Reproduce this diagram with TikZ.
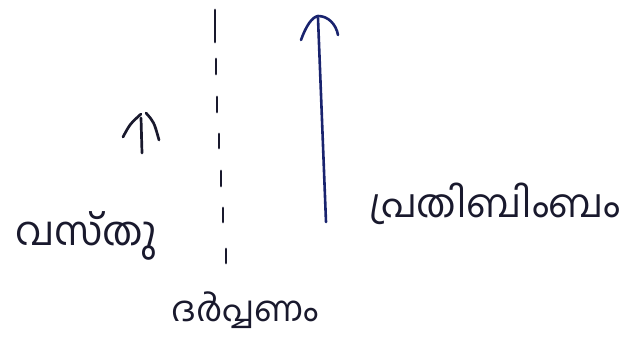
\documentclass[tikz,border=0pt]{standalone}
\usepackage{fontspec}
\newfontfamily\mlfont[Script=Malayalam]{Hind Kochi}
\definecolor{ink}{RGB}{25,25,45}
\definecolor{blueink}{RGB}{25,35,110}
\begin{document}
\begin{tikzpicture}[x=1pt,y=-1pt,
  pen/.style={line width=2.7pt,line cap=round,line join=round,draw=ink},
  bluepen/.style={line width=2.6pt,line cap=round,line join=round,draw=blueink},
  lbl/.style={text=ink,inner sep=0pt}]
\useasboundingbox (0,0) rectangle (622,342);
% object arrow
\draw[pen] (142,153) -- (141,118);
\draw[pen] (123,137) .. controls (130,124) .. (141,114);
\draw[pen] (146,113) .. controls (154,122) .. (159,140);
% mirror (dashed)
\draw[pen] (215,10) -- (215,42);
\draw[pen] (216,59) -- (216,74);
\draw[pen] (217,97) -- (217,112);
\draw[pen] (219,134) -- (219,148);
\draw[pen] (221,171) -- (221,186);
\draw[pen] (223,208) -- (223,222);
\draw[pen] (226,249) -- (226,263);
% image arrow
\draw[bluepen] (326,222) -- (318,18);
\draw[bluepen] (301,40) .. controls (306,26) and (312,17) .. (318,16) .. controls (328,16) and (336,24) .. (338,35);
% labels
\node[lbl,font=\mlfont\fontsize{40}{44}\selectfont] (obj) at (86,236) {വസ്തു};
\node[lbl,font=\mlfont\fontsize{35}{40}\selectfont] (mir) at (245,310) {ദർപ്പണം};
\node[lbl,font=\mlfont\fontsize{39}{44}\selectfont] (img) at (495,204) {പ്രതിബിംബം};
\end{tikzpicture}
\end{document}
